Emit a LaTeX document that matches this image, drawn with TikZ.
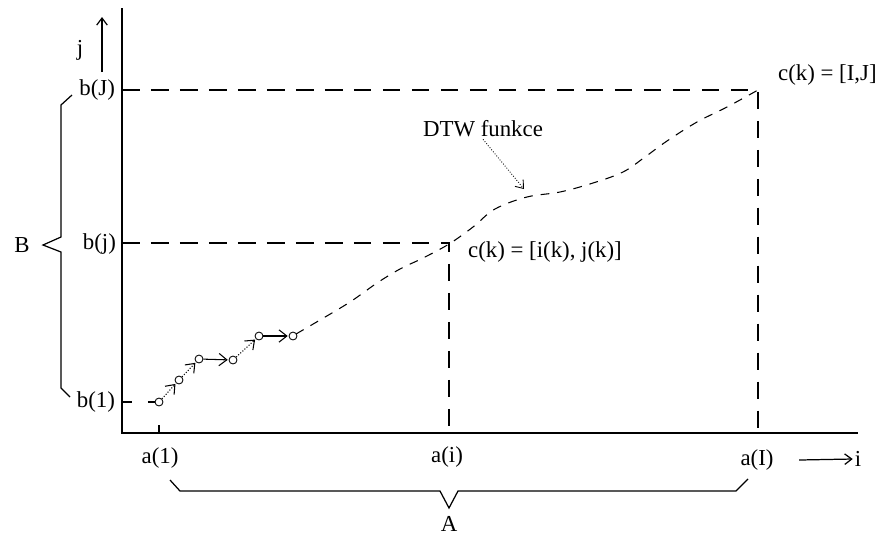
\documentclass[tikz,border=0pt]{standalone}
\usepackage{fontspec}
\setmainfont{Liberation Serif}
\usepackage{tikz}
\usetikzlibrary{arrows.meta}

\begin{document}
\begin{tikzpicture}[x=0.02cm, y=-0.02cm,
            lbl/.style={font=\fontsize{13}{15}\selectfont, inner sep=1pt},
            guide/.style={line width=0.7pt, dash pattern=on 10pt off 6.5pt},
            dtw/.style={line width=0.6pt, dash pattern=on 5pt off 4.5pt},
            knot/.style={circle, draw, fill=white, line width=0.5pt, inner sep=0, minimum size=4.5pt},
            stepln/.style={line width=0.6pt, -{Straight Barb[length=4.5pt, width=7pt]}, shorten >=0.5pt},
            brace/.style={line width=0.7pt},
          ]
          \useasboundingbox (0,0) rectangle (884,535);

          % --- axes ---
          \coordinate (O) at (122,433);
          \coordinate (ytop) at (122,8);
          \coordinate (xend) at (858,433);
          \draw[line width=0.9pt] (ytop) -- (O) -- (xend);

          % --- end point and middle point of the warping path ---
          \coordinate (cIJ) at (758,90);
          \coordinate (cij) at (449,243);
          \coordinate (bJ) at (O |- cIJ);
          \coordinate (bj) at (O |- cij);
          \coordinate (aI) at (cIJ |- O);
          \coordinate (ai) at (cij |- O);
          \draw[guide] (bJ) -- (cIJ) -- (aI);
          \draw[guide] (bj) -- (cij) -- (ai);

          % --- first steps (circles) ---
          \node[knot] (p1) at (159,402) {};
          \node[knot] (p2) at (179,380) {};
          \node[knot] (p3) at (199,359) {};
          \node[knot] (p4) at (233,360) {};
          \node[knot] (p5) at (259,336) {};
          \node[knot] (p6) at (293,336) {};
          \coordinate (b1) at (O |- p1);
          \coordinate (a1) at (p1 |- O);
          \draw[line width=0.7pt, dash pattern=on 0.2cm off 0.32cm] (b1) -- (p1);
          \draw[line width=0.7pt, dash pattern=on 0.16cm off 0.4cm] (a1) -- (p1);
          \draw[stepln, densely dotted] (p1) -- (p2);
          \draw[stepln, densely dotted] (p2) -- (p3);
          \draw[stepln] (p3) -- (p4);
          \draw[stepln, densely dotted] (p4) -- (p5);
          \draw[stepln] (p5) -- (p6);

          % --- DTW function ---
          \draw[dtw] plot[smooth, tension=0.6] coordinates {(296,334) (320,320) (350,302) (377,283) (400,269)
            (423,258) (449,244) (473,227) (495,209) (527,197) (560,192) (593,183) (623,172) (645,157)
            (667,141) (697,122) (727,107) (758,90)};

          % --- labels ---
          \node[lbl] (lj) at (80,50) {j};
          \coordinate (jbot) at (102,72);
          \coordinate (jtop) at (102,17);
          \draw[line width=0.7pt, -{Straight Barb[length=4pt, width=6pt]}] (jbot) -- (jtop);
          \node[lbl, anchor=east] (lbJ) at (117,90) {b(J)};
          \node[lbl, anchor=east] (lbj) at (118,244) {b(j)};
          \node[lbl, anchor=east] (lb1) at (117,402) {b(1)};
          \node[lbl] (la1) at (160,458) {a(1)};
          \node[lbl] (lai) at (447,457) {a(i)};
          \node[lbl] (laI) at (757,460) {a(I)};
          \node[lbl] (li) at (858,459) {i};
          \coordinate (iarr) at (799,460);
          \draw[line width=0.7pt, -{Straight Barb[length=4pt, width=6pt]}] (iarr) -- (li.west);
          \node[lbl, anchor=west] (ckIJ) at (776,75) {c(k) = [I,J]};
          \node[lbl, anchor=west] (ckij) at (466,252) {c(k) = [i(k), j(k)]};
          \node[lbl] (dtwlbl) at (483,129) {DTW funkce};
          \coordinate (dtwtip) at (524,189);
          \draw[line width=0.5pt, densely dotted, -{Straight Barb[length=4pt, width=6pt]}] (dtwlbl.south) -- (dtwtip);

          % --- braces A and B ---
          \draw[brace] (72,95) -- (61,105) -- (61,237) -- (43,245) -- (61,252) -- (61,388) -- (70,397);
          \node[lbl] (lB) at (22,245) {B};
          \draw[brace] (170,480) -- (180,491) -- (440,491) -- (449,508) -- (458,491) -- (736,491) -- (748,479);
          \node[lbl] (lA) at (449,524) {A};
        \end{tikzpicture}
\end{document}
